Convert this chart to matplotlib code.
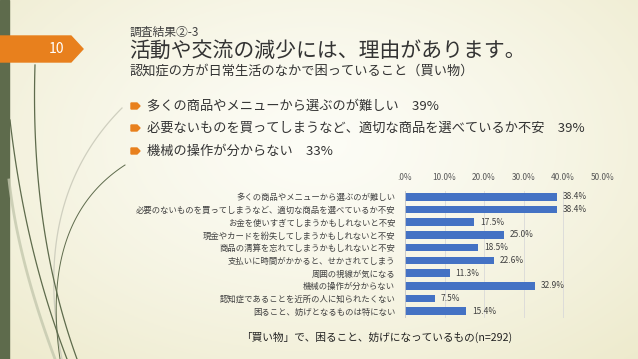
import numpy as np
import matplotlib.pyplot as plt
from matplotlib.patches import Polygon, Rectangle

plt.rcParams['font.family'] = ['Noto Sans CJK JP', 'DejaVu Sans']

# chart data
categories = [
    '多くの商品やメニューから選ぶのが難しい',
    '必要のないものを買ってしまうなど、適切な商品を選べているか不安',
    'お金を使いすぎてしまうかもしれないと不安',
    '現金やカードを紛失してしまうかもしれないと不安',
    '商品の清算を忘れてしまうかもしれないと不安',
    '支払いに時間がかかると、せかされてしまう',
    '周囲の視線が気になる',
    '機械の操作が分からない',
    '認知症であることを近所の人に知られたくない',
    '困ること、妨げとなるものは特にない',
]
values = [38.4, 38.4, 17.5, 25.0, 18.5, 22.6, 11.3, 32.9, 7.5, 15.4]
x_ticks = [0, 10, 20, 30, 40, 50]
x_ticklabels = ['.0%', '10.0%', '20.0%', '30.0%', '40.0%', '50.0%']

heading = '調査結果②-3'
title = '活動や交流の減少には、理由があります。'
subtitle = '認知症の方が日常生活のなかで困っていること（買い物）'
bullets = [
    '多くの商品やメニューから選ぶのが難しい　39%',
    '必要ないものを買ってしまうなど、適切な商品を選べているか不安　39%',
    '機械の操作が分からない　33%',
]
caption = '「買い物」で、困ること、妨げになっているもの(n=292)'
slide_no = '10'

W, H = 638, 359
fig = plt.figure(figsize=(W / 100, H / 100), dpi=100)


def px(x, y):
    return x / W, 1 - y / H


# background gradient
bg = fig.add_axes([0, 0, 1, 1], zorder=-5)
gx, gy = np.meshgrid(np.linspace(0, 1, 320), np.linspace(0, 1, 180))
d = np.sqrt(((gx - 0.5) / 0.85) ** 2 + ((gy - 0.4) / 0.95) ** 2)
d = np.clip(d, 0, 1) ** 1.3
c_in = np.array([0.99, 0.99, 0.965])
c_out = np.array([0.92, 0.905, 0.77])
img = c_in[None, None, :] * (1 - d[..., None]) + c_out[None, None, :] * d[..., None]
bg.imshow(img, extent=[0, 1, 0, 1], origin='upper', aspect='auto')
bg.set_xlim(0, 1)
bg.set_ylim(0, 1)
bg.axis('off')

# left strip
bg.add_patch(Rectangle((0, 0), 9 / W, 1, color='#5e6b4c', transform=bg.transAxes))


# decorative curves
def curve(p0, p1, p2, color, lw, alpha=1.0):
    t = np.linspace(0, 1, 100)[:, None]
    p0, p1, p2 = (np.array(px(*p)) for p in (p0, p1, p2))
    pts = (1 - t) ** 2 * p0 + 2 * (1 - t) * t * p1 + t ** 2 * p2
    bg.plot(pts[:, 0], pts[:, 1], color=color, lw=lw, alpha=alpha)


curve((55, 359), (18, 260), (9, 180), '#c4c8ae', 2.0, 0.8)
curve((62, 359), (30, 200), (122, 108), '#cfcfbf', 0.9)
curve((77, 359), (30, 230), (35, 65), '#5e6b4c', 0.9)
curve((67, 359), (25, 250), (10, 120), '#5e6b4c', 0.9)
curve((60, 359), (40, 220), (125, 165), '#5e6b4c', 0.7)

# slide number tag
tag = Polygon([px(0, 36), px(71, 36), px(83, 49), px(71, 62), px(0, 62)],
              closed=True, color='#e8801d', transform=fig.transFigure, zorder=2)
fig.patches.append(tag)
fig.text(*px(57, 49), slide_no, color='white', fontsize=10, ha='center', va='center')

# titles
fig.text(*px(130, 32), heading, fontsize=8.5, color='#404040', va='center')
fig.text(*px(129, 51), title, fontsize=15, color='#333333', va='center')
fig.text(*px(130, 71), subtitle, fontsize=9.5, color='#333333', va='center')

for i, b in enumerate(bullets):
    y = [106, 128, 151][i]
    mk = Polygon([px(131, y - 3), px(137, y - 3), px(140, y), px(137, y + 3), px(131, y + 3)],
                 closed=True, color='#e8801d', transform=fig.transFigure)
    fig.patches.append(mk)
    fig.text(*px(147, y), b, fontsize=9.5, color='#333333', va='center')

# bar chart
l, r = 405, 602.5
top, bot = 190.5, 317.5
ax = fig.add_axes([l / W, 1 - bot / H, (r - l) / W, (bot - top) / H])
ax.patch.set_alpha(0)
y_pos = np.arange(len(categories))
ax.barh(y_pos, values, height=0.6, color='#4472C4', zorder=3)
ax.set_xlim(0, 50)
ax.set_ylim(len(categories) - 0.5, -0.5)
ax.set_xticks(x_ticks)
ax.set_xticklabels(x_ticklabels, fontsize=6, color='#595959')
ax.xaxis.tick_top()
ax.tick_params(axis='x', length=0, pad=6)
ax.set_yticks(y_pos)
ax.set_yticklabels(categories, fontsize=6, color='#404040')
ax.tick_params(axis='y', length=0, pad=7)
ax.grid(axis='x', color='#d9d9d9', lw=0.6, zorder=0)
for s in ax.spines.values():
    s.set_visible(False)
ax.axvline(0, color='#c8c8c8', lw=0.6, zorder=4)
for yp, v in zip(y_pos, values):
    ax.text(v + 1.5, yp, f'{v:.1f}%', fontsize=6, color='#404040', va='center')

fig.text(*px(377, 337), caption, fontsize=7.7, color='#222222', ha='center', va='center')

fig.savefig('out.png', dpi=100)
